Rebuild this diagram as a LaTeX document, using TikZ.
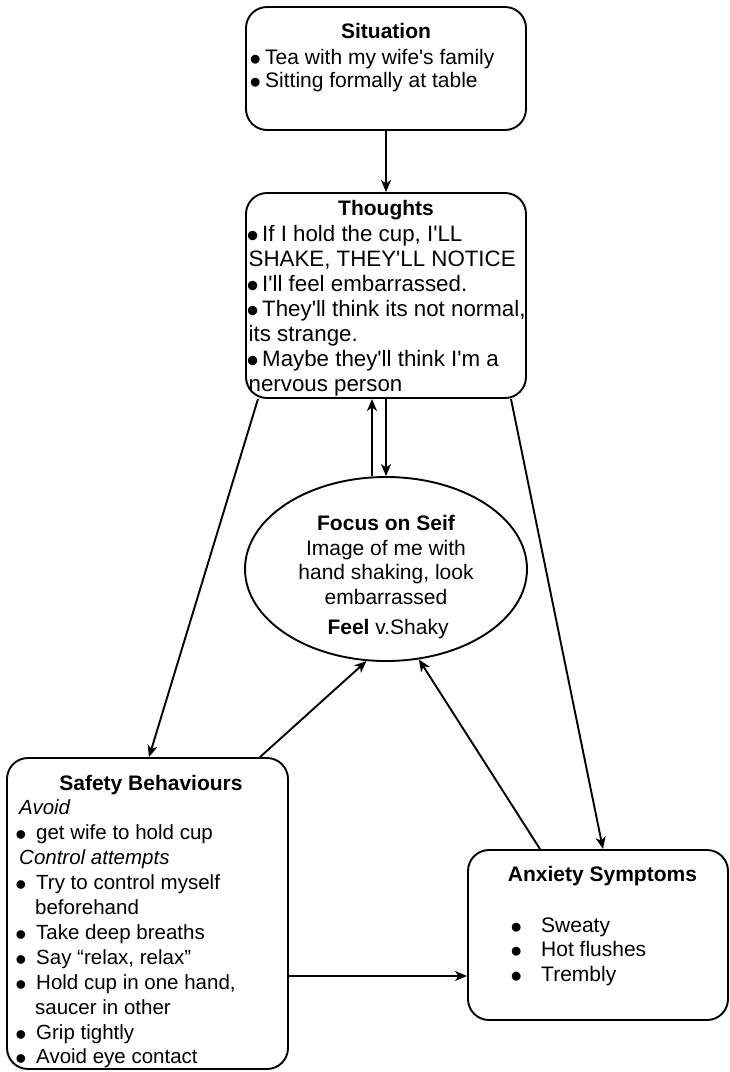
\documentclass[tikz,border=0pt]{standalone}
\usepackage{fontspec}
\usepackage{graphicx}
\setmainfont{Liberation Sans}
\usetikzlibrary{arrows.meta,shapes.geometric}
\newcommand{\bul}[1]{\makebox[#1][l]{\hspace{-2.2pt}\raisebox{-6.3pt}{\scalebox{1.55}{\textbullet}}}}
\begin{document}
\begin{tikzpicture}[x=1pt,y=-1pt,
  box/.style={draw, line width=1.9pt, rounded corners=21pt, inner sep=0pt},
  oval/.style={draw, ellipse, line width=1.9pt, inner sep=0pt},
  txt/.style={inner sep=0pt, font=\fontsize{21}{25}\selectfont},
  txtb/.style={inner sep=0pt, font=\fontsize{21}{25}\selectfont\bfseries},
  txtl/.style={inner sep=0pt, font=\fontsize{22.3}{25}\selectfont},
  txts/.style={inner sep=0pt, font=\fontsize{20.5}{25}\selectfont},
  arr/.style={-{Stealth[length=12pt,width=10pt,inset=3.5pt]}, line width=1.9pt}]
\useasboundingbox (0,0) rectangle (730,1072);

% boxes
\node[box, minimum width=280pt, minimum height=123pt] (sit) at (386,68.5) {};
\node[box, minimum width=280pt, minimum height=205pt] (th) at (386,295.5) {};
\node[oval, minimum width=282pt, minimum height=184pt] (foc) at (386,569) {};
\node[box, minimum width=281pt, minimum height=311pt] (saf) at (147.5,913.5) {};
\node[box, minimum width=260pt, minimum height=170pt] (anx) at (598,935) {};

% Situation
\node[txtb, anchor=base] (sitT) at (386,38) {Situation};
\node[txt, anchor=base west] (sit1) at (251.5,64.5) {\bul{13.5pt}Tea with my wife\textquotesingle s family};
\node[txt, anchor=base west] (sit2) at (251.5,87) {\bul{13.5pt}Sitting formally at table};

% Thoughts
\node[txtb, anchor=base] (thT) at (386,215.5) {Thoughts};
\node[txtl, anchor=base west] (th1) at (248.5,241.5) {\bul{13.5pt}If I hold the cup, I\textquotesingle LL};
\node[txtl, anchor=base west] (th2) at (248.5,266.5) {SHAKE, THEY\textquotesingle LL NOTICE};
\node[txtl, anchor=base west] (th3) at (248.5,291.5) {\bul{13.5pt}I\textquotesingle ll feel embarrassed.};
\node[txtl, anchor=base west] (th4) at (248.5,316.5) {\bul{13.5pt}They\textquotesingle ll think its not normal,};
\node[txtl, anchor=base west] (th5) at (248.5,341.5) {its strange.};
\node[txtl, anchor=base west] (th6) at (248.5,366.5) {\bul{13.5pt}Maybe they\textquotesingle ll think I\textquotesingle m a};
\node[txtl, anchor=base west] (th7) at (248.5,391.5) {nervous person};

% Focus on self
\node[txtb, anchor=base] (fo1) at (386,530.5) {Focus on Seif};
\node[txt, anchor=base] (fo2) at (386,555.5) {Image of me with};
\node[txt, anchor=base] (fo3) at (386,579.5) {hand shaking, look};
\node[txt, anchor=base] (fo4) at (386,604) {embarrassed};
\node[txt, anchor=base] (fo5) at (388,634) {\textbf{Feel} v.Shaky};

% Safety behaviours
\node[txtb, anchor=base] (saT) at (151,790) {Safety Behaviours};
\node[txts, anchor=base west] (sa1) at (19,814) {\itshape Avoid};
\node[txts, anchor=base west] (sa2) at (17.5,839) {\bul{18.5pt}get wife to hold cup};
\node[txts, anchor=base west] (sa3) at (19,864) {\itshape Control attempts};
\node[txts, anchor=base west] (sa4) at (17.5,889) {\bul{18.5pt}Try to control myself};
\node[txts, anchor=base west] (sa5) at (17.5,914) {\hspace*{17.5pt}beforehand};
\node[txts, anchor=base west] (sa6) at (17.5,939) {\bul{18.5pt}Take deep breaths};
\node[txts, anchor=base west] (sa7) at (17.5,964) {\bul{18.5pt}Say ``relax, relax''};
\node[txts, anchor=base west] (sa8) at (17.5,989) {\bul{18.5pt}Hold cup in one hand,};
\node[txts, anchor=base west] (sa9) at (17.5,1014) {\hspace*{17.5pt}saucer in other};
\node[txts, anchor=base west] (sa10) at (17.5,1039) {\bul{18.5pt}Grip tightly};
\node[txts, anchor=base west] (sa11) at (17.5,1063) {\bul{18.5pt}Avoid eye contact};

% Anxiety symptoms
\node[txtb, anchor=base] (anT) at (602.5,881) {Anxiety Symptoms};
\node[txt, anchor=base west] (an1) at (512.5,932) {\bul{28.5pt}Sweaty};
\node[txt, anchor=base west] (an2) at (512.5,956) {\bul{28.5pt}Hot flushes};
\node[txt, anchor=base west] (an3) at (512.5,981) {\bul{28.5pt}Trembly};

% connectors
\draw[arr] (sit.south) -- (th.north);
\draw[arr] ([xshift=-14pt]foc.north) -- ([xshift=-14pt]th.south);
\draw[arr] (th.south) -- (foc.north);
\draw[arr] ([xshift=-128pt]th.south) -- ([xshift=1.5pt]saf.north);
\draw[arr] ([xshift=125pt]th.south) -- ([xshift=5pt]anx.north);
\draw[arr] ([xshift=112.5pt]saf.north) -- (foc.-102);
\draw[arr] ([xshift=-58pt]anx.north) -- (foc.-70);
\coordinate (hy) at (0,976);
\draw[arr] (saf.east |- hy) -- (anx.west |- hy);
\end{tikzpicture}
\end{document}
